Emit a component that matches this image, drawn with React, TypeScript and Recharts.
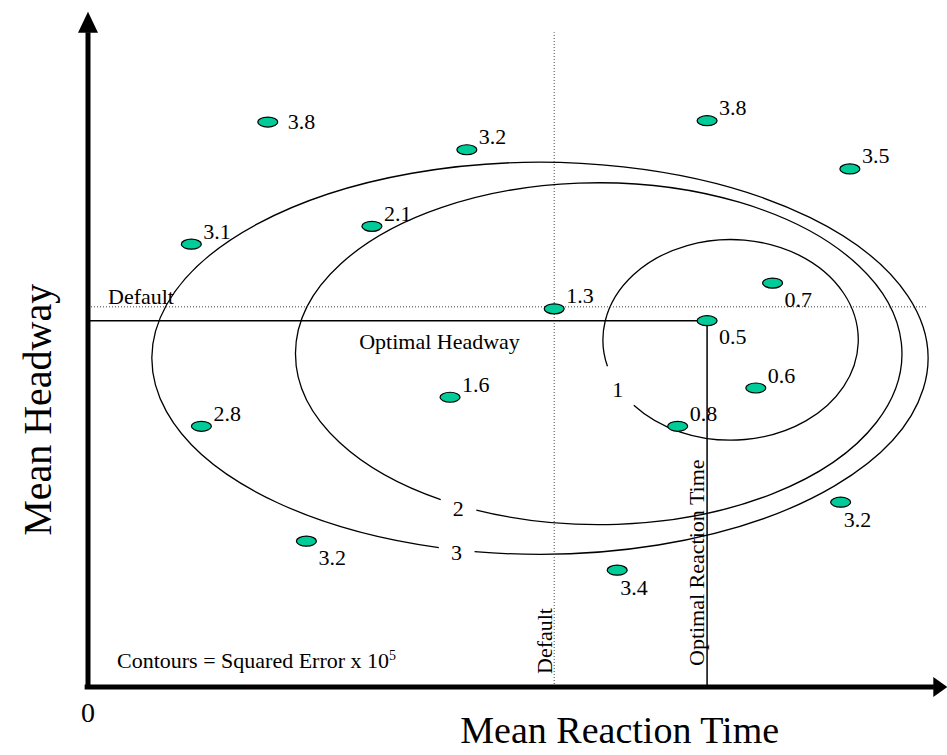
import { ScatterChart, Scatter, XAxis, YAxis, ReferenceLine, ReferenceDot, ReferenceArea } from "recharts"

// measured runs (arbitrary units, origin at the axes corner)
const reactionTime = [2.14, 4.51, 7.37, 9.07, 1.23, 3.38, 5.55, 8.15, 7.37, 7.95, 4.31, 1.35, 7.02, 8.96, 2.6, 6.3]
const headway = [8.56, 8.14, 8.58, 7.85, 6.71, 6.98, 5.73, 6.12, 5.55, 4.53, 4.39, 3.95, 3.95, 2.8, 2.21, 1.77]
const squaredError = ["3.8", "3.2", "3.8", "3.5", "3.1", "2.1", "1.3", "0.7", "0.5", "0.6", "1.6", "2.8", "0.8", "3.2", "3.2", "3.4"]

// error contours: level, centre, radii, angle (deg) where the level is written
const contourLevel = ["1", "2", "3"]
const contourCenterX = [7.65, 6.08, 5.38]
const contourCenterY = [5.26, 5.05, 4.98]
const contourRadiusX = [1.52, 3.61, 4.62]
const contourRadiusY = [1.52, 2.59, 2.97]
const contourLabelAngle = [-152, -117.6, -102.4]

const defaultReaction = 5.55
const defaultHeadway = 5.76
const optimalReaction = 7.37
const optimalHeadway = 5.55

const FONT = '"Liberation Serif", "Times New Roman", serif'

const points = reactionTime.map((x, i) => ({ x, y: headway[i], label: squaredError[i], idx: i }))

const labelSide = ["e", "ne", "ne", "ne", "ne", "ne", "ne", "se", "se", "ne", "ne", "ne", "ne", "s", "se", "s"]
const sideOffset: Record<string, [number, number]> = {
  ne: [12, -13],
  se: [12, 16],
  e: [20, -1],
  s: [3, 17],
}

const contourGap = [12.7, 3.8, 2.7]

function Marker(props: any) {
  const { cx, cy, payload } = props
  const [dx, dy] = sideOffset[labelSide[payload.idx]]
  return (
    <g>
      <ellipse cx={cx} cy={cy} rx={10} ry={5} fill="#00CC99" stroke="#000" strokeWidth={1.2} />
      <text
        x={cx + dx}
        y={cy + dy}
        style={{ fontFamily: FONT, fontSize: 22 }}
        dominantBaseline="central"
        fill="#000"
      >
        {payload.label}
      </text>
    </g>
  )
}

function contourShape(i: number) {
  return (props: any) => {
    const { x, y, width, height } = props
    const rx = width / 2
    const ry = height / 2
    const cx = x + rx
    const cy = y + ry
    const a = (contourLabelAngle[i] * Math.PI) / 180
    const g = (contourGap[i] * Math.PI) / 180
    const p = (t: number) => [cx + rx * Math.cos(t), cy - ry * Math.sin(t)]
    const [sx, sy] = p(a + g)
    const [ex, ey] = p(a - g)
    const d = `M${sx},${sy} A${rx},${ry} 0 1 0 ${ex},${ey}`
    const [lx, ly] = p(a)
    return (
      <g>
        <path d={d} fill="none" stroke="#000" strokeWidth={1.3} />
        <text x={lx} y={ly + 3} style={{ fontFamily: FONT, fontSize: 22 }} textAnchor="middle" dominantBaseline="central">
          {contourLevel[i]}
        </text>
      </g>
    )
  }
}

const txt = (content: any, dx: number, dy: number, opts: any = {}) => (props: any) => {
  const { cx, cy } = props
  const x = cx + dx
  const y = cy + dy
  return (
    <text
      x={x}
      y={y}
      style={{ fontFamily: FONT, fontSize: opts.size || 22 }}
      textAnchor={opts.anchor || "start"}
      transform={opts.rotate ? `rotate(-90 ${x} ${y})` : undefined}
      fill="#000"
    >
      {content}
    </text>
  )
}

export default function App() {
  return (
    <div style={{ position: "absolute", left: 0, top: 0, background: "#fff" }}>
      <ScatterChart width={947} height={755} margin={{ top: 27, right: 19, bottom: 68, left: 88 }}>
        <XAxis type="number" dataKey="x" domain={[0, 10]} hide allowDataOverflow />
        <YAxis type="number" dataKey="y" domain={[0, 10]} hide allowDataOverflow />

        {contourLevel.map((_, i) => (
          <ReferenceArea
            key={i}
            x1={contourCenterX[i] - contourRadiusX[i]}
            x2={contourCenterX[i] + contourRadiusX[i]}
            y1={contourCenterY[i] - contourRadiusY[i]}
            y2={contourCenterY[i] + contourRadiusY[i]}
            ifOverflow="visible"
            shape={contourShape(i)}
          />
        ))}

        <ReferenceLine
          segment={[{ x: 0, y: defaultHeadway }, { x: 10, y: defaultHeadway }]}
          stroke="#444"
          strokeDasharray="1 2"
          ifOverflow="visible"
        />
        <ReferenceLine
          segment={[{ x: defaultReaction, y: 0 }, { x: defaultReaction, y: 9.92 }]}
          stroke="#444"
          strokeDasharray="1 2"
          ifOverflow="visible"
        />
        <ReferenceLine
          segment={[{ x: 0, y: optimalHeadway }, { x: optimalReaction, y: optimalHeadway }]}
          stroke="#000"
          strokeWidth={1.5}
          ifOverflow="visible"
        />
        <ReferenceLine
          segment={[{ x: optimalReaction, y: 0 }, { x: optimalReaction, y: optimalHeadway }]}
          stroke="#000"
          strokeWidth={1.5}
          ifOverflow="visible"
        />

        <Scatter data={points} isAnimationActive={false} shape={Marker} />

        {/* axes with arrows */}
        <ReferenceLine segment={[{ x: -0.04, y: 0 }, { x: 10.07, y: 0 }]} stroke="#000" strokeWidth={5} ifOverflow="visible" />
        <ReferenceLine segment={[{ x: 0, y: -0.03 }, { x: 0, y: 9.92 }]} stroke="#000" strokeWidth={5} ifOverflow="visible" />
        <ReferenceDot
          x={0}
          y={10.23}
          ifOverflow="visible"
          shape={(p: any) => <polygon points={`${p.cx},${p.cy} ${p.cx - 10},${p.cy + 21} ${p.cx + 10},${p.cy + 21}`} fill="#000" />}
        />
        <ReferenceDot
          x={10.23}
          y={0}
          ifOverflow="visible"
          shape={(p: any) => <polygon points={`${p.cx},${p.cy} ${p.cx - 14},${p.cy - 10} ${p.cx - 14},${p.cy + 10}`} fill="#000" />}
        />

        {/* annotations */}
        <ReferenceDot x={0} y={defaultHeadway} ifOverflow="visible" shape={txt("Default", 20, -3)} />
        <ReferenceDot x={defaultReaction} y={0} ifOverflow="visible" shape={txt("Default", -2, -13, { rotate: true })} />
        <ReferenceDot x={optimalReaction / 2} y={optimalHeadway} ifOverflow="visible" shape={txt("Optimal Headway", 42, 28, { anchor: "middle" })} />
        <ReferenceDot x={optimalReaction} y={0} ifOverflow="visible" shape={txt("Optimal Reaction Time", -3, -21, { rotate: true })} />
        <ReferenceDot
          x={0}
          y={0}
          ifOverflow="visible"
          shape={txt(
            <>
              Contours = Squared Error x 10
              <tspan dy={-8} style={{ fontSize: 14 }}>5</tspan>
            </>,
            29,
            -19,
          )}
        />
        <ReferenceDot x={0} y={0} ifOverflow="visible" shape={txt("0", 0, 35, { anchor: "middle", size: 28 })} />
        <ReferenceDot x={6.33} y={0} ifOverflow="visible" shape={txt("Mean Reaction Time", 0, 56, { anchor: "middle", size: 38 })} />
        <ReferenceDot x={0} y={4.2} ifOverflow="visible" shape={txt("Mean Headway", -37, 0, { anchor: "middle", size: 40, rotate: true })} />
      </ScatterChart>
    </div>
  )
}
